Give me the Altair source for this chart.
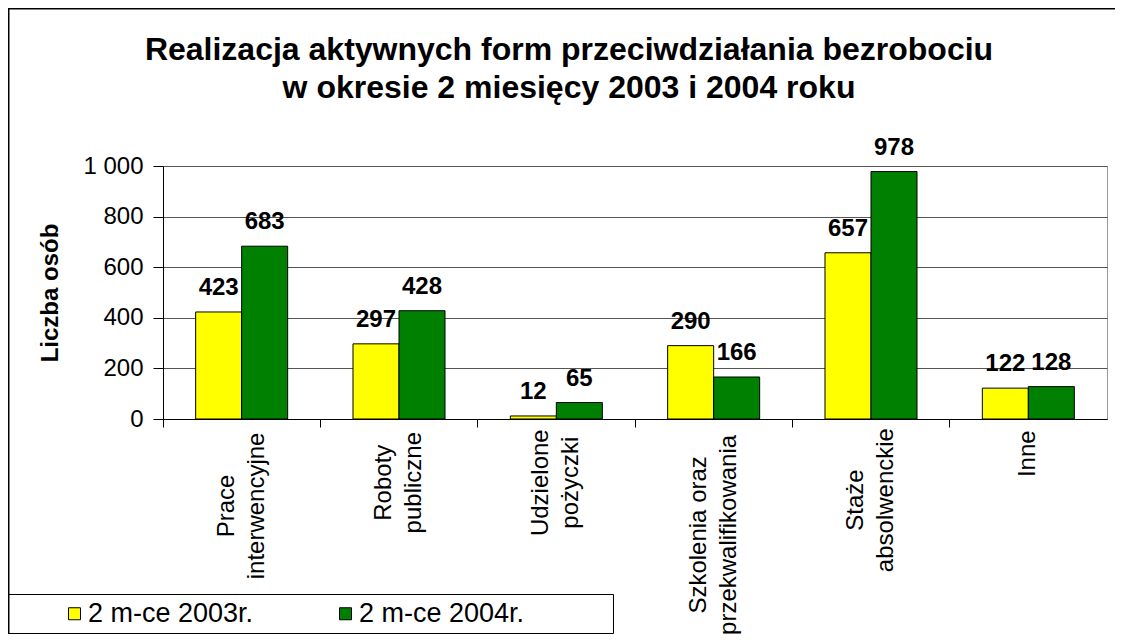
import altair as alt
import pandas as pd

categories = [
    "Prace\ninterwencyjne",
    "Roboty\npubliczne",
    "Udzielone\npożyczki",
    "Szkolenia oraz\nprzekwalifikowania",
    "Staże\nabsolwenckie",
    "Inne",
]
series = ["2 m-ce 2003r.", "2 m-ce 2004r."]
values_2003 = [423, 297, 12, 290, 657, 122]
values_2004 = [683, 428, 65, 166, 978, 128]
y_ticks = [0, 200, 400, 600, 800, 1000]
colors = ["#FFFF00", "#008000"]
title_lines = [
    "Realizacja aktywnych form przeciwdziałania bezrobociu",
    "w okresie 2 miesięcy 2003 i 2004 roku",
]
y_title = "Liczba osób"

rows = []
for c, a, b in zip(categories, values_2003, values_2004):
    rows.append({"cat": c, "series": series[0], "value": a})
    rows.append({"cat": c, "series": series[1], "value": b})
df = pd.DataFrame(rows)

FONT = "Liberation Sans"

x_enc = alt.X(
    "cat:N",
    sort=categories,
    scale=alt.Scale(paddingInner=0, paddingOuter=0),
    axis=alt.Axis(
        title=None,
        labelAngle=270,
        labelAlign="center",
        labelBaseline="middle",
        labelExpr="split(datum.label, '\\n')",
        labelPadding=alt.ExprRef(
            expr="3 + 5.8 * max(length(split(datum.value, '\\n')[0]), length(split(datum.value, '\\n')[1] || ''))"
        ),
        labelOffset=alt.ExprRef(expr="indexof(datum.value, '\\n') >= 0 ? -15 : 0"),
        labelLineHeight=30,
        labelFontSize=24,
        labelFont=FONT,
        labelColor="black",
        labelLimit=400,
        labelOverlap=False,
        bandPosition=0,
        tickSize=8,
        tickColor="black",
        domainColor="black",
        grid=False,
    ),
)
xoff_enc = alt.XOffset(
    "series:N", sort=series, scale=alt.Scale(paddingInner=0, paddingOuter=0.71)
)
y_enc = alt.Y(
    "value:Q",
    scale=alt.Scale(domain=[0, 1000], nice=False),
    axis=alt.Axis(
        values=y_ticks,
        labelExpr="replace(format(datum.value, ','), ',', ' ')",
        tickSize=10,
        labelPadding=10,
        labelFontSize=24,
        labelFont=FONT,
        labelColor="black",
        title=y_title,
        titleFont=FONT,
        titleFontSize=24,
        titleFontWeight="bold",
        titleColor="black",
        titlePadding=20,
        grid=True,
        gridColor="#555555",
        domainColor="black",
        tickColor="black",
    ),
)

legend = alt.Legend(
    orient="none",
    legendX=-155,
    legendY=428,
    direction="horizontal",
    columns=2,
    title=" ",
    titleOrient="left",
    titlePadding=47,
    titleFontSize=24,
    labelFont=FONT,
    labelFontSize=27,
    labelColor="black",
    labelLimit=600,
    labelOffset=0,
    labelExpr="datum.label == '2 m-ce 2004r.' ? datum.label + '" + "\u00a0" * 11 + "\u200b' : datum.label",
    symbolType="square",
    symbolSize=144,
    symbolStrokeColor="black",
    symbolStrokeWidth=1,
    strokeColor="black",
    padding=6,
    columnPadding=78,
)

frame = alt.Chart(pd.DataFrame({"f": [0]})).mark_rect(
    fillOpacity=0, stroke="black", strokeWidth=1.5
).encode(
    x=alt.value(-154.25), x2=alt.value(2000), y=alt.value(-157.25), y2=alt.value(1000)
)

bars = alt.Chart(df).mark_bar(stroke="black", strokeWidth=1).encode(
    x=x_enc,
    xOffset=xoff_enc,
    y=y_enc,
    color=alt.Color(
        "series:N", sort=series, scale=alt.Scale(domain=series, range=colors), legend=legend
    ),
)

labels = alt.Chart(df).mark_text(
    font=FONT, fontSize=24, fontWeight="bold", baseline="alphabetic", dy=-17, color="black"
).encode(
    x=alt.X("cat:N", sort=categories),
    xOffset=alt.XOffset("series:N", sort=series),
    y=alt.Y("value:Q"),
    text=alt.Text("value:Q"),
)

chart = (
    alt.layer(frame, bars, labels)
    .properties(
        width=944,
        height=253,
        autosize=alt.AutoSizeParams(type="none"),
        padding={"left": 155, "top": 158, "right": 8, "bottom": 215},
        title=alt.Title(
            text=title_lines,
            font=FONT,
            fontSize=32,
            fontWeight="bold",
            color="black",
            anchor="middle",
            frame="group",
            dx=-66,
            offset=-97,
            lineHeight=38,
        ),
    )
    .configure(font=FONT)
    .configure_view(stroke="#999999", strokeWidth=1)
)

chart.save("out.html", embed_options={"renderer": "svg", "actions": False})
